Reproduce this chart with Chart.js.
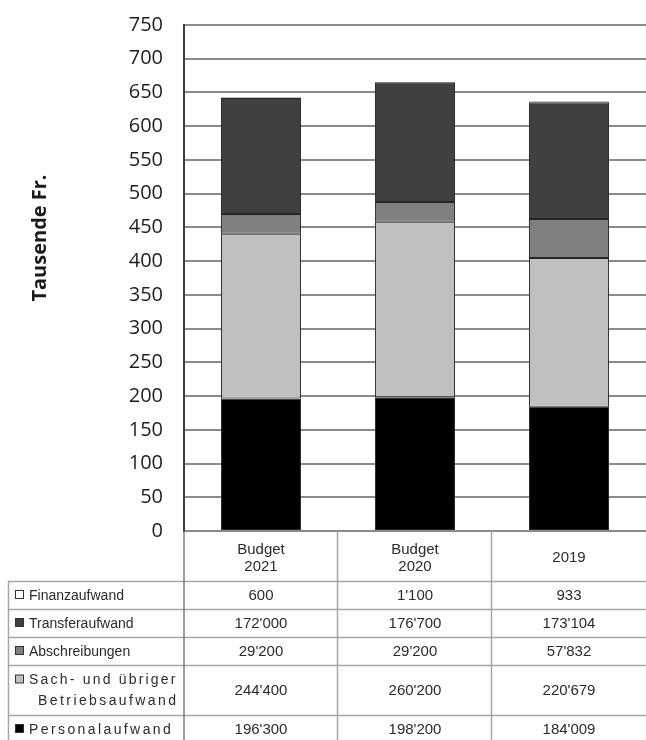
<!DOCTYPE html>
<html>
<head>
<meta charset="utf-8">
<script src="https://cdn.jsdelivr.net/npm/chart.js@4/dist/chart.umd.min.js"></script>
<style>
  html, body { margin: 0; padding: 0; background: #ffffff; }
  #wrap { width: 646px; height: 740px; }
</style>
</head>
<body>
<div id="wrap"><canvas id="c" width="646" height="740"></canvas></div>
<script>
// Spalten (Jahre) – mehrzeilige Beschriftung
const categories = [['Budget', '2021'], ['Budget', '2020'], ['2019']];

// Aufwand in Franken (Tabelle), Balken in Tausend Franken
const personalaufwand = [196300, 198200, 184009];
const sachaufwand     = [244400, 260200, 220679];
const abschreibungen  = [29200, 29200, 57832];
const transferaufwand = [172000, 176700, 173104];
const finanzaufwand   = [600, 1100, 933];

// Achse
const yMin = 0;
const yMax = 750;
const yStep = 50;
const yTitle = 'Tausende Fr.';

// Reihen von unten nach oben gestapelt
const seriesNames  = ['Personalaufwand', ['Sach- und übriger', 'Betriebsaufwand'], 'Abschreibungen', 'Transferaufwand', 'Finanzaufwand'];
const seriesValues = [personalaufwand, sachaufwand, abschreibungen, transferaufwand, finanzaufwand];
const seriesColors = ['#000000', '#c0c0c0', '#808080', '#404040', '#ffffff'];

const toThousands = arr => arr.map(v => v / 1000);
const fmtCH = v => String(v).replace(/\B(?=(\d{3})+(?!\d))/g, "'");

const datasets = seriesValues.map((vals, i) => ({
  label: Array.isArray(seriesNames[i]) ? seriesNames[i].join(' ') : seriesNames[i],
  data: toThousands(vals),
  backgroundColor: seriesColors[i],
  borderColor: '#262626',
  borderWidth: 1,
  borderSkipped: false,
  barPercentage: 0.52,
  categoryPercentage: 1.0
}));

const TABLE_TOP_OFFSET = 50;   // Höhe der Kopfzeile unter der Nulllinie
const ROW_H = 28;              // Höhe einer einzeiligen Tabellenzeile
const ROW_H2 = 50;             // Höhe einer zweizeiligen Tabellenzeile
const TABLE_LEFT = 8;
const LABEL_X = 29;            // Textbeginn der Zeilenbeschriftung
const LABEL_FONT = '14px "Liberation Sans", Arial, sans-serif';
const VALUE_FONT = '15px "Liberation Sans", Arial, sans-serif';
// Längere Bezeichnungen werden gesperrt gesetzt (Zeichenabstand in px)
const LABEL_SPACING = { 'Personalaufwand': 2.4, 'Sach- und übriger': 2.2, 'Betriebsaufwand': 2.4 };

// Datentabelle unter dem Diagramm und Achsentitel
const dataTablePlugin = {
  id: 'dataTable',
  afterDraw(chart) {
    const ctx = chart.ctx;
    const area = chart.chartArea;
    const xs = chart.scales.x;
    const n = categories.length;
    const colW = (area.right - area.left) / n;
    const H = chart.height;

    ctx.save();

    // Achsentitel
    ctx.save();
    ctx.translate(40, 238);
    ctx.rotate(-Math.PI / 2);
    ctx.font = 'bold 20px "Open Sans", sans-serif';
    ctx.fillStyle = '#1a1a1a';
    ctx.textAlign = 'center';
    ctx.textBaseline = 'middle';
    ctx.fillText(yTitle, 0, 0);
    ctx.restore();

    const headTop = area.bottom;
    const bodyTop = headTop + TABLE_TOP_OFFSET;

    // Zeilen von oben nach unten: umgekehrte Stapelreihenfolge
    const order = seriesValues.map((_, i) => i).reverse();
    const rowTops = [];
    let y = bodyTop;
    order.forEach(i => {
      rowTops.push(y);
      y += Array.isArray(seriesNames[i]) ? ROW_H2 : ROW_H;
    });
    rowTops.push(y);

    // Linien
    ctx.strokeStyle = '#a6a6a6';
    ctx.lineWidth = 1.5;
    ctx.beginPath();
    for (let c = 1; c < n; c++) {
      const x = Math.round(area.left + c * colW) - 0.5;
      ctx.moveTo(x, headTop); ctx.lineTo(x, H);
    }
    rowTops.forEach(ry => {
      ctx.moveTo(TABLE_LEFT, Math.round(ry) + 0.5);
      ctx.lineTo(area.right, Math.round(ry) + 0.5);
    });
    ctx.moveTo(TABLE_LEFT + 0.5, bodyTop);
    ctx.lineTo(TABLE_LEFT + 0.5, H);
    ctx.stroke();

    // Linke Begrenzung der Datenspalten (Verlängerung der Y-Achse)
    ctx.strokeStyle = '#7a7a7a';
    ctx.lineWidth = 1.5;
    ctx.beginPath();
    ctx.moveTo(area.left, headTop);
    ctx.lineTo(area.left, H);
    ctx.stroke();

    // Kopfzeile
    ctx.font = VALUE_FONT;
    ctx.fillStyle = '#2b2b2b';
    ctx.textAlign = 'center';
    ctx.textBaseline = 'middle';
    categories.forEach((lines, c) => {
      const cx = xs.getPixelForValue(c);
      const lh = 17;
      const cy = headTop + TABLE_TOP_OFFSET / 2 + 2;
      lines.forEach((ln, k) => {
        ctx.fillText(ln, cx, cy + (k - (lines.length - 1) / 2) * lh);
      });
    });

    // Zeilen
    order.forEach((si, r) => {
      const top = rowTops[r];
      const bottom = rowTops[r + 1];
      const mid = (top + bottom) / 2;
      const name = seriesNames[si];
      const lines = Array.isArray(name) ? name : [name];
      const lh = 21;
      const firstY = mid - (lines.length - 1) * lh / 2;

      // Legendensymbol
      ctx.fillStyle = seriesColors[si];
      ctx.fillRect(15.5, firstY - 4.5, 8, 8);
      ctx.strokeStyle = '#333333';
      ctx.lineWidth = 1;
      ctx.strokeRect(15.5, firstY - 4.5, 8, 8);

      // Bezeichnung
      ctx.fillStyle = '#2b2b2b';
      ctx.font = LABEL_FONT;
      ctx.textBaseline = 'middle';
      lines.forEach((ln, k) => {
        const sp = LABEL_SPACING[ln] || 0;
        if ('letterSpacing' in ctx) ctx.letterSpacing = sp + 'px';
        if (k === 0) {
          ctx.textAlign = 'left';
          ctx.fillText(ln, LABEL_X, firstY + 1);
        } else {
          ctx.textAlign = 'right';
          ctx.fillText(ln, 176 + sp, firstY + 1 + k * lh);
        }
      });
      if ('letterSpacing' in ctx) ctx.letterSpacing = '0px';

      // Werte
      ctx.font = VALUE_FONT;
      ctx.textAlign = 'center';
      seriesValues[si].forEach((v, c) => {
        ctx.fillText(fmtCH(v), xs.getPixelForValue(c), mid + 1);
      });
    });

    ctx.restore();
  }
};

new Chart(document.getElementById('c'), {
  type: 'bar',
  data: {
    labels: categories.map(l => l.join(' ')),
    datasets
  },
  options: {
    responsive: false,
    animation: false,
    devicePixelRatio: 1,
    layout: { padding: { top: 25, left: 0, right: 0, bottom: 0 } },
    plugins: {
      legend: { display: false },
      tooltip: { enabled: false },
      title: { display: false }
    },
    scales: {
      x: {
        stacked: true,
        grid: { display: false, drawTicks: false },
        border: { display: false },
        ticks: { display: false },
        afterFit: s => { s.height = 209; }
      },
      y: {
        stacked: true,
        min: yMin,
        max: yMax,
        ticks: {
          stepSize: yStep,
          padding: 21,
          color: '#1e1e1e',
          font: { family: '"Open Sans", sans-serif', size: 20 }
        },
        grid: { color: '#8a8a8a', lineWidth: 2, drawTicks: false },
        border: { display: true, color: '#3c3c3c', width: 2 },
        afterFit: s => { s.width = 184; s.paddingTop = 0; s.paddingBottom = 0; }
      }
    }
  },
  plugins: [dataTablePlugin]
});
</script>
</body>
</html>
